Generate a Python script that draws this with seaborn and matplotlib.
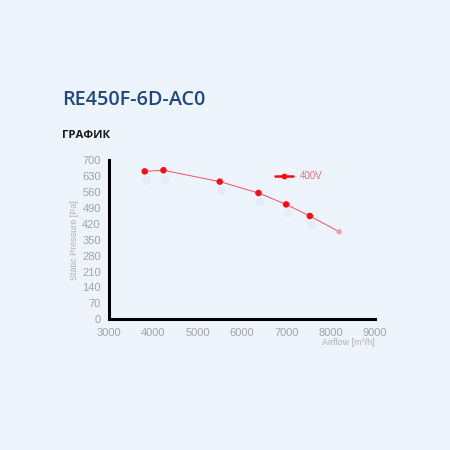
import matplotlib
matplotlib.use("Agg")
import matplotlib.pyplot as plt
import seaborn as sns
import pandas as pd
from matplotlib.ticker import AutoMinorLocator

airflow = [3806, 4228, 5499, 6373, 6996, 7531, 8192]
pressure = [650, 655, 605, 555, 505, 454, 385]
series_name = "400V"
x_ticks = [3000, 4000, 5000, 6000, 7000, 8000, 9000]
y_ticks = [0, 70, 140, 210, 280, 350, 420, 490, 560, 630, 700]

df = pd.DataFrame({"Airflow": airflow, "Pressure": pressure})

sns.set_style("white")
plt.rcParams['font.family'] = ['Liberation Sans', 'DejaVu Sans']

bg = "#EEF4FB"
fig = plt.figure(figsize=(4.5, 4.5), dpi=100, facecolor=bg)
ax = fig.add_axes([0.2422, 0.2904, 0.591, 0.354])
ax.set_facecolor(bg)

sns.lineplot(data=df, x="Airflow", y="Pressure", ax=ax, color="#F04050",
             linewidth=0.7, alpha=0.9, legend=False)
main = df.iloc[:-1]
last = df.iloc[-1:]
# faint shadows under markers
ax.scatter(main["Airflow"] + 40, main["Pressure"] - 40, s=40, color="#c8cdd5", alpha=0.18,
           edgecolors="none", zorder=2)
sns.scatterplot(data=main, x="Airflow", y="Pressure", ax=ax, color="#FF0A14",
                s=22, edgecolor="none", zorder=3, legend=False)
sns.scatterplot(data=last, x="Airflow", y="Pressure", ax=ax, color="#F59AA8",
                s=14, edgecolor="none", zorder=3, legend=False)

ax.set_xlim(3000, 9000)
ax.set_ylim(0, 700)
ax.set_xticks(x_ticks)
ax.set_yticks(y_ticks)
ax.xaxis.set_minor_locator(AutoMinorLocator(5))
ax.yaxis.set_minor_locator(AutoMinorLocator(5))
for s in ["top", "right"]:
    ax.spines[s].set_visible(False)
for s in ["left", "bottom"]:
    ax.spines[s].set_color("black")
    ax.spines[s].set_linewidth(2.2)
ax.tick_params(axis="both", which="major", length=3, width=0.8, color="#333333",
               labelcolor="#a4a4a4", labelsize=8, pad=3, direction="out")
ax.tick_params(axis="both", which="minor", length=2, width=0.6, color="#555555",
               direction="out")
ax.set_xlabel("")
ax.set_ylabel("Static Pressure [Pa]", color="#b0b0b0", fontsize=6.5, labelpad=2)
ax.text(1.0, -0.12, "Airflow [m\u00b3/h]", transform=ax.transAxes, ha="right",
        va="top", color="#b0b0b0", fontsize=6.5)

# legend
ax.plot([6750, 7150], [630, 630], color="#FF0A14", linewidth=1.8, zorder=4)
ax.scatter([6950], [630], color="#FF0A14", s=10, zorder=5)
ax.text(7300, 630, series_name, color="#F07080", fontsize=7, va="center", ha="left")

fig.text(62 / 450, 1 - 100 / 450, "RE450F-6D-AC0", color="#1F4882", fontsize=14.2,
         fontweight="semibold", family=["Open Sans", "DejaVu Sans"], va="center", ha="left")
fig.text(62 / 450, 1 - 136 / 450, "ГРАФИК", color="#1a1a1a", fontsize=8.2,
         fontweight="bold", family=["Open Sans", "DejaVu Sans"], va="center", ha="left")

fig.savefig("out.png", dpi=100, facecolor=bg)
